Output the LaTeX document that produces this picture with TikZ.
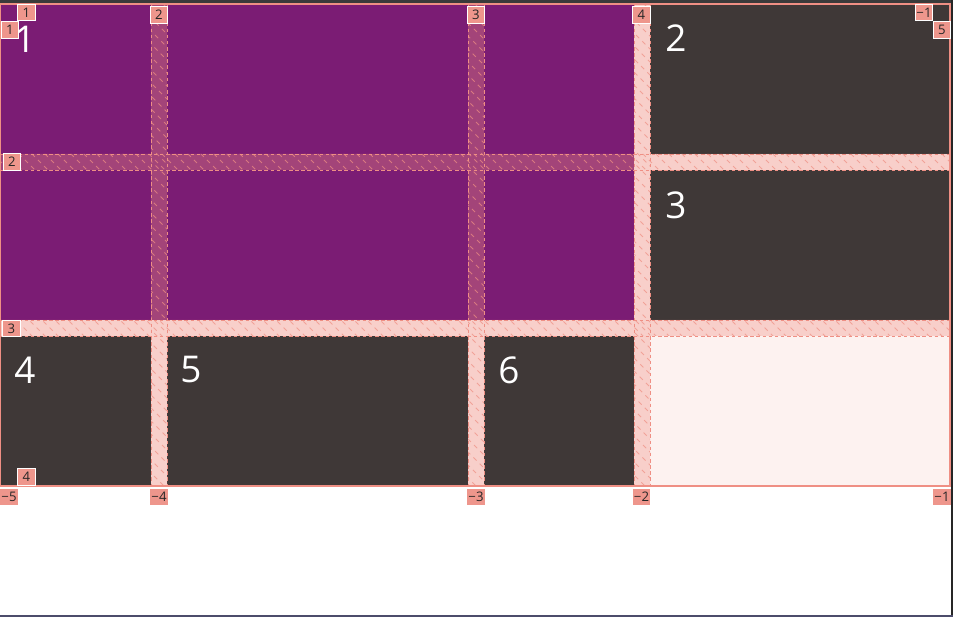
\documentclass[tikz,border=0pt]{standalone}
\usepackage{fontspec}
\setmainfont{Open Sans}
\definecolor{areapurple}{HTML}{7B1C74}
\definecolor{itemdark}{HTML}{3F3837}
\definecolor{gridline}{HTML}{EF8F84}
\definecolor{tagfill}{HTML}{EE968C}
\definecolor{paletint}{HTML}{FDF2F0}
\definecolor{frame}{HTML}{3A3A3A}
\tikzset{
  areanum/.style={text=white, font=\fontsize{21}{24}\selectfont, inner sep=0pt},
  linetag/.style={fill=tagfill, draw=white, line width=0.5pt,
    text=black!85, font=\fontsize{7.5}{8}\selectfont, inner sep=0.5pt,
    minimum width=10pt, minimum height=9.5pt},
  negtag/.style={linetag, draw=none},
  gapedge/.style={gridline, dashed, dash pattern=on 2pt off 1.5pt, line width=0.5pt},
  hatch/.style={gridline, opacity=0.7, line width=0.5pt, dash pattern=on 2.5pt off 2.5pt},
}
\begin{document}
\begin{tikzpicture}[x=0.02cm, y=-0.02cm]
\useasboundingbox (0,0) rectangle (953,617);
\fill[white] (0,0) rectangle (953,617);
% window frame
\fill[frame] (0,0) rectangle (953,3.5);
\fill[black!85] (951,0) rectangle (953,617);
\fill[black!70!blue!40!gray] (0,615) rectangle (953,617);
% grid area and items
\fill[paletint] (0,4) rectangle (950,486);
\fill[areapurple] (0,4) rectangle (634,320);
\fill[itemdark] (650,4) rectangle (950,154);
\fill[itemdark] (650,170) rectangle (950,320);
\fill[itemdark] (0,336) rectangle (151,486);
\fill[itemdark] (167,336) rectangle (468,486);
\fill[itemdark] (484,336) rectangle (634,486);
% gaps
\fill[gridline, opacity=0.35] (151,4) rectangle (167,486) (468,4) rectangle (484,486)
  (634,4) rectangle (650,486);
\fill[gridline, opacity=0.35] (0,154) rectangle (151,170) (167,154) rectangle (468,170)
  (484,154) rectangle (634,170) (650,154) rectangle (950,170);
\fill[gridline, opacity=0.35] (0,320) rectangle (151,336) (167,320) rectangle (468,336)
  (484,320) rectangle (634,336) (650,320) rectangle (950,336);
\begin{scope}
  \clip (151,4) rectangle (167,486) (468,4) rectangle (484,486) (634,4) rectangle (650,486);
  \foreach \i in {-500,-487,...,660}
    \draw[hatch] (\i,4) -- ++(482,482);
\end{scope}
\begin{scope}
  \clip (0,154) rectangle (950,170) (0,320) rectangle (950,336);
  \foreach \i in {0,13,...,1450}
    \draw[hatch] (\i,486) -- ++(-482,-482);
\end{scope}
\foreach \x in {151,167,468,484,634,650}
  \draw[gapedge] (\x,4) -- (\x,486);
\foreach \y in {154,170,320,336}
  \draw[gapedge] (0,\y) -- (950,\y);
\draw[gridline, line width=0.7pt] (0,4) rectangle (950,486);
% area numbers
\node[areanum] (n1) at (25,39) {1};
\node[areanum] (n2) at (676,38) {2};
\node[areanum] (n3) at (676,205) {3};
\node[areanum] (n4) at (25,370) {4};
\node[areanum] (n5) at (191,370) {5};
\node[areanum] (n6) at (509,370) {6};
% line numbers
\node[linetag] (c1) at (26.5,12.5) {1};
\node[linetag] (c2) at (159,15) {2};
\node[linetag] (c3) at (476,15) {3};
\node[linetag] (c4) at (641.5,15) {4};
\node[linetag] (c5) at (942,30) {5};
\node[linetag] (rm1) at (924,12.5) {−1};
\node[linetag] (r1) at (10,30) {1};
\node[linetag] (r2) at (12,162) {2};
\node[linetag] (r3) at (11.5,328.5) {3};
\node[linetag] (r4) at (26.5,477) {4};
\node[negtag] (cm5) at (9,497) {−5};
\node[negtag] (cm4) at (159,497) {−4};
\node[negtag] (cm3) at (476,497) {−3};
\node[negtag] (cm2) at (641.5,497) {−2};
\node[negtag] (cm1) at (942,497) {−1};
\end{tikzpicture}
\end{document}
